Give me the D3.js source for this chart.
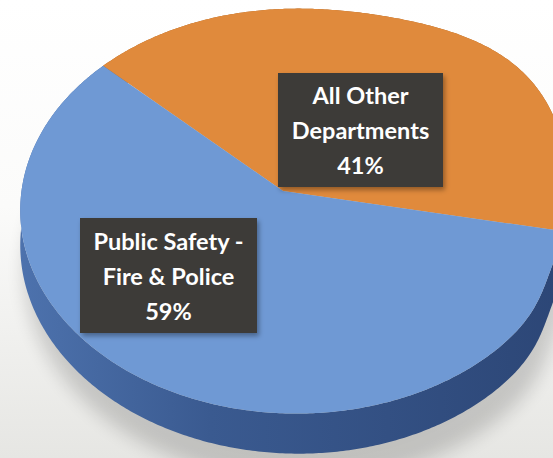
<!DOCTYPE html>
<html><head><meta charset="utf-8">
<script src="https://cdn.jsdelivr.net/npm/d3@7"></script>
<style>html,body{margin:0;padding:0;background:#fff;overflow:hidden}</style>
</head><body>
<svg id="chart" width="553" height="458"></svg>
<script>
// Budget split
const categories = ["All Other Departments", "Public Safety - Fire & Police"];
const labelLines = [["All Other", "Departments"], ["Public Safety -", "Fire & Police"]];
const shares = [41, 59];
const topColors = ["#e08a3c", "#6f99d4"];
const sideColors = ["#a8601f", "url(#sideBlue)"];

const W = 553, H = 458;
const svg = d3.select("#chart");
const defs = svg.append("defs");

// background: white fading to light grey
const bg = defs.append("linearGradient").attr("id", "bg").attr("x1", 0).attr("y1", 0).attr("x2", 0).attr("y2", 1);
bg.append("stop").attr("offset", "0%").attr("stop-color", "#ffffff");
bg.append("stop").attr("offset", "45%").attr("stop-color", "#fbfbfa");
bg.append("stop").attr("offset", "100%").attr("stop-color", "#e6e6e3");
svg.append("rect").attr("width", W).attr("height", H).attr("fill", "url(#bg)");

const sb = defs.append("linearGradient").attr("id", "sideBlue").attr("x1", 0).attr("y1", 0).attr("x2", 1).attr("y2", 0);
sb.append("stop").attr("offset", "0%").attr("stop-color", "#4d72ad");
sb.append("stop").attr("offset", "35%").attr("stop-color", "#3a5a90");
sb.append("stop").attr("offset", "100%").attr("stop-color", "#2c4676");

defs.append("filter").attr("id", "soft").attr("x", "-20%").attr("y", "-20%").attr("width", "140%").attr("height", "140%")
  .append("feGaussianBlur").attr("stdDeviation", 9);
const ds = defs.append("filter").attr("id", "boxShadow").attr("x", "-20%").attr("y", "-20%").attr("width", "140%").attr("height", "140%");
ds.append("feDropShadow").attr("dx", 2).attr("dy", 3).attr("stdDeviation", 2.5).attr("flood-color", "#000").attr("flood-opacity", 0.35);

// perspective view of a flat disc: centre of the disc lands on (vx, vy)
const view = {vx: 283, vy: 191, r: 273, sy: 0.733, k: 0.10, m: 0.044, depth: 36};
// slight lens bulge of the rim (angles in degrees, clockwise from 12 o'clock)
const bulges = [{at: 52, amp: 0.085, spread: 25}, {at: 110, amp: -0.025, spread: 12}];
function rimScale(angle) {
  const deg = angle * 180 / Math.PI;
  return 1 + d3.sum(bulges, b => {
    const diff = ((deg - b.at) % 360 + 540) % 360 - 180;
    const t = diff / b.spread;
    return b.amp * Math.exp(-(t * t));
  });
}
function project(angle, radius = 1, drop = 0) {
  const rr = radius * rimScale(angle);
  const u = Math.sin(angle) * rr, v = -Math.cos(angle) * rr;
  const w = 1 - view.k * v - view.m * u;
  return [view.vx + view.r * u / w, view.vy + view.r * view.sy * v / w + drop * view.depth / w];
}
function rim(a0, a1, drop) {
  const n = Math.max(2, Math.ceil(Math.abs(a1 - a0) / 0.01));
  return d3.range(n + 1).map(i => project(a0 + (a1 - a0) * i / n, 1, drop));
}

const start = -46.5 * Math.PI / 180;
const pie = d3.pie().sort(null).value(d => d).startAngle(start).endAngle(start + 2 * Math.PI);
const slices = pie(shares);

// soft shadow under the disc
svg.append("path")
  .attr("d", d3.line().curve(d3.curveLinearClosed)(rim(0, 2 * Math.PI, 1.6)))
  .attr("fill", "#000").attr("opacity", 0.16).attr("filter", "url(#soft)")
  .attr("transform", "translate(4,4)");

// side wall of each slice
svg.append("g").selectAll("path").data(slices).join("path")
  .attr("d", d => d3.line()(rim(d.startAngle, d.endAngle, 0).concat(rim(d.endAngle, d.startAngle, 1))) + "Z")
  .attr("fill", (d, i) => sideColors[i]);

// top faces
svg.append("g").selectAll("path").data(slices).join("path")
  .attr("d", d => d3.line()([project(0, 0)].concat(rim(d.startAngle, d.endAngle, 0))) + "Z")
  .attr("fill", (d, i) => topColors[i]);

// data labels
const labelBoxes = [
  {cx: 360.5, cy: 130, w: 165, h: 114},
  {cx: 168.5, cy: 275.5, w: 177, h: 115}
];
const fontFamily = "Lato, 'Open Sans', sans-serif";
const lg = svg.append("g");
slices.forEach((d, i) => {
  const b = labelBoxes[i];
  lg.append("rect").attr("x", b.cx - b.w / 2).attr("y", b.cy - b.h / 2)
    .attr("width", b.w).attr("height", b.h).attr("fill", "#3c3b39").attr("filter", "url(#boxShadow)");
  const lines = labelLines[i].concat([d3.format(".0f")(d.data) + "%"]);
  lines.forEach((t, j) => {
    lg.append("text").attr("x", b.cx).attr("y", b.cy + (j - 1) * 35)
      .attr("text-anchor", "middle").attr("dominant-baseline", "central")
      .attr("fill", "#ffffff").attr("font-family", fontFamily)
      .attr("font-weight", 700).attr("font-size", 23.5).text(t);
  });
});
</script>
</body></html>
